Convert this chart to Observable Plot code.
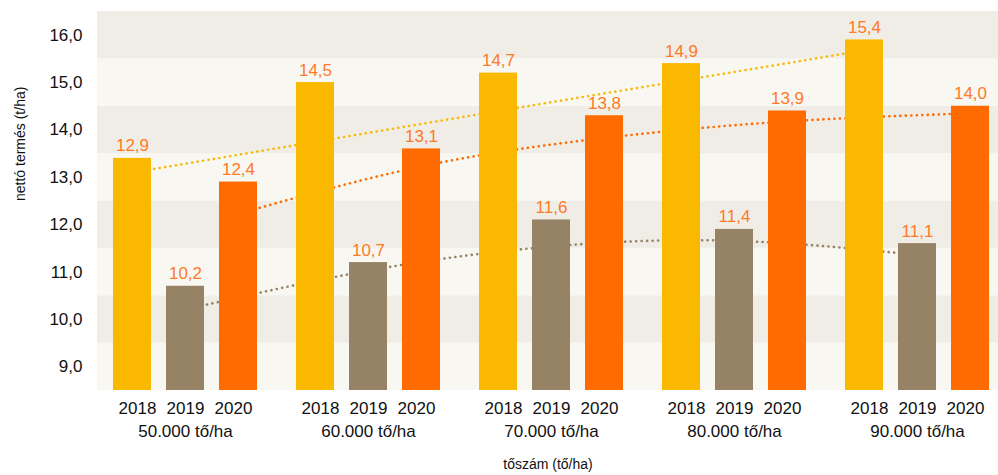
<!DOCTYPE html>
<html>
<head>
<meta charset="utf-8">
<script src="https://cdn.jsdelivr.net/npm/d3@7"></script>
<script src="https://cdn.jsdelivr.net/npm/@observablehq/plot@0.6"></script>
<style>
  html, body { margin: 0; padding: 0; background: #fff; overflow: hidden; }
  #chart { width: 998px; height: 475px; }
  svg { font-family: "Liberation Sans", Arial, Helvetica, sans-serif; }
</style>
</head>
<body>
<div id="chart"></div>
<script>
// ---- data ----
const groups = ["50.000 tő/ha", "60.000 tő/ha", "70.000 tő/ha", "80.000 tő/ha", "90.000 tő/ha"];
const years = ["2018", "2019", "2020"];
const yield2018 = [12.9, 14.5, 14.7, 14.9, 15.4];
const yield2019 = [10.2, 10.7, 11.6, 11.4, 11.1];
const yield2020 = [12.4, 13.1, 13.8, 13.9, 14.0];
// dotted trend lines, read at each bar centre
const trend2018 = [12.6, 13.25, 13.9, 14.54, 15.18];
const trend2019 = [9.71, 10.53, 11.04, 11.16, 10.86];
const trend2020 = [11.73, 12.73, 13.33, 13.68, 13.85];
const yTickLabels = ["9,0", "10,0", "11,0", "12,0", "13,0", "14,0", "15,0", "16,0"];
const yDomain = [8, 16];
const yLabel = "nettó termés (t/ha)";
const xLabel = "tőszám (tő/ha)";

// ---- styling ----
const colors = {"2018": "#FAB900", "2019": "#968264", "2020": "#FF6B00"};
const labelColor = "#FF7A26";
const barOffset = {"2018": -53, "2019": 0, "2020": 53};
const yearLabelOffset = {"2018": -48, "2019": 0, "2020": 48};
const series = {"2018": yield2018, "2019": yield2019, "2020": yield2020};
const trends = {"2018": trend2018, "2019": trend2019, "2020": trend2020};

const fmt = v => v.toFixed(1).replace(".", ",");
const rows = y => groups.map((g, i) => ({group: g, year: y, value: series[y][i]}));
const trendRows = y => groups.map((g, i) => ({group: g, year: y, value: trends[y][i]}));
const bands = d3.range(yDomain[0], yDomain[1]).map((v, i) => ({y1: v, y2: v + 1, dark: i % 2 === 1}));
const tickPos = yTickLabels.map((_, i) => yDomain[0] + 0.5 + i);

const marks = [
  Plot.rect(bands, {y1: "y1", y2: "y2", fill: d => d.dark ? "#F0EDE6" : "#F8F7F2"}),
];
for (const y of years) {
  marks.push(Plot.line(trendRows(y), {
    x: "group", y: "value", dx: barOffset[y], stroke: colors[y], curve: "natural",
    strokeWidth: 2.6, strokeDasharray: "0.1 5.4", strokeLinecap: "round"
  }));
}
for (const y of years) {
  marks.push(Plot.barY(rows(y), {x: "group", y1: yDomain[0], y2: "value", dx: barOffset[y], fill: colors[y]}));
  marks.push(Plot.text(rows(y), {
    x: "group", y: "value", dx: barOffset[y], dy: -7, text: d => fmt(d.value),
    lineAnchor: "bottom", fill: labelColor, fontSize: 17
  }));
  marks.push(Plot.text(groups, {
    x: d => d, text: () => y, frameAnchor: "bottom", dx: yearLabelOffset[y], dy: 23,
    fill: "#111", fontSize: 17
  }));
}
marks.push(Plot.text(groups, {
  x: d => d, text: d => d, frameAnchor: "bottom", dy: 46, fill: "#111", fontSize: 17
}));
marks.push(Plot.text([xLabel], {
  text: d => d, frameAnchor: "bottom", dy: 78, fill: "#111", fontSize: 14
}));
marks.push(Plot.text([yLabel], {
  text: d => d, frameAnchor: "left", dx: -77, rotate: -90, fill: "#111", fontSize: 14
}));
marks.push(Plot.axisY({
  ticks: tickPos, tickFormat: (d, i) => yTickLabels[i], tickSize: 0, tickPadding: 15,
  fontSize: 17, fill: "#111", label: null
}));

const chart = Plot.plot({
  width: 998,
  height: 475,
  marginLeft: 97,
  marginRight: 0,
  marginTop: 11,
  marginBottom: 85,
  style: {fontFamily: "'Liberation Sans', Arial, Helvetica, sans-serif", background: "#fff", overflow: "visible"},
  x: {domain: groups, type: "band", paddingInner: 0.7926, paddingOuter: 0.3547, align: 0.53, axis: null},
  y: {domain: yDomain},
  marks
});
document.getElementById("chart").appendChild(chart);
</script>
</body>
</html>
